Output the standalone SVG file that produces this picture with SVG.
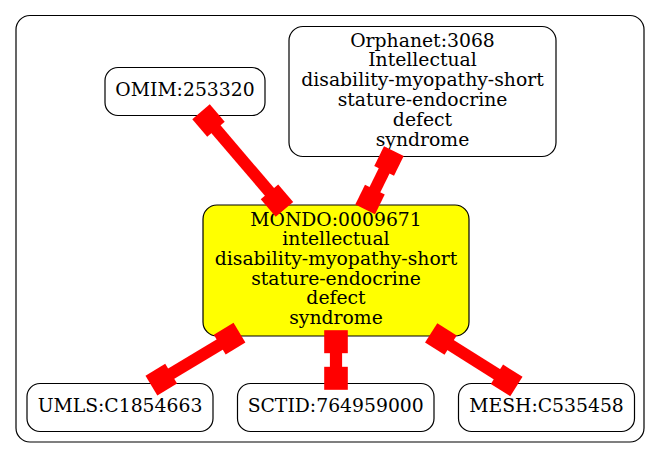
<svg xmlns="http://www.w3.org/2000/svg" width="661" height="459" viewBox="0 0 661 459">
<style>
.node rect{fill:#fff;stroke:#000;stroke-width:1.2}
#mondo rect{fill:#ffff00}
text{font-family:"DejaVu Serif","Liberation Serif",serif;font-size:18.8px;fill:#000;text-anchor:middle}
.e{fill:#ff0000}
</style>
<rect x="16" y="15.5" width="628" height="426.5" rx="14" fill="#fff" stroke="#000" stroke-width="1.2"/>
<g id="omim" class="node"><rect x="105" y="67.5" width="160" height="48" rx="13"/><text x="185" y="96">OMIM:253320</text></g>
<g id="orphanet" class="node"><rect x="289" y="26.5" width="267" height="130" rx="14"/>
<text x="422.5" y="46.5">Orphanet:3068</text><text x="422.5" y="66.3">Intellectual</text><text x="422.5" y="86.1">disability-myopathy-short</text><text x="422.5" y="105.9">stature-endocrine</text><text x="422.5" y="125.7">defect</text><text x="422.5" y="145.5">syndrome</text></g>
<g id="mondo" class="node"><rect x="203" y="205" width="266" height="131" rx="14"/>
<text x="336" y="225.5">MONDO:0009671</text><text x="336" y="245.2">intellectual</text><text x="336" y="264.9">disability-myopathy-short</text><text x="336" y="284.6">stature-endocrine</text><text x="336" y="304.3">defect</text><text x="336" y="324">syndrome</text></g>
<g id="umls" class="node"><rect x="27" y="383.5" width="186" height="48" rx="13"/><text x="120" y="412">UMLS:C1854663</text></g>
<g id="sctid" class="node"><rect x="237.5" y="383.5" width="196.5" height="48" rx="13"/><text x="335.7" y="412">SCTID:764959000</text></g>
<g id="mesh" class="node"><rect x="458.5" y="383.5" width="176" height="48" rx="13"/><text x="546.5" y="412">MESH:C535458</text></g>
<g id="edges" class="e">
<g transform="translate(208.5,120.5) rotate(49.5)"><rect x="-11.5" y="-11.5" width="23" height="23"/><rect x="0" y="-6" width="105.4" height="12"/><rect x="93.9" y="-11.5" width="23" height="23"/></g>
<g transform="translate(389,161) rotate(116.2)"><rect x="-11" y="-11" width="22" height="22"/><rect x="0" y="-6" width="43" height="12"/><rect x="32" y="-11" width="22" height="22"/></g>
<g transform="translate(336,341.7) rotate(90)"><rect x="-11.5" y="-11.8" width="23" height="23.6"/><rect x="0" y="-6.1" width="36.6" height="12.2"/><rect x="25.1" y="-11.8" width="23" height="23.6"/></g>
<g transform="translate(229.6,338.6) rotate(149)"><rect x="-11.5" y="-11.5" width="23" height="23"/><rect x="0" y="-6" width="79.7" height="12"/><rect x="68.2" y="-11.5" width="23" height="23"/></g>
<g transform="translate(440.9,339) rotate(32.2)"><rect x="-11.5" y="-11.5" width="23" height="23"/><rect x="0" y="-6" width="77.7" height="12"/><rect x="66.2" y="-11.5" width="23" height="23"/></g>
</g>
</svg>
